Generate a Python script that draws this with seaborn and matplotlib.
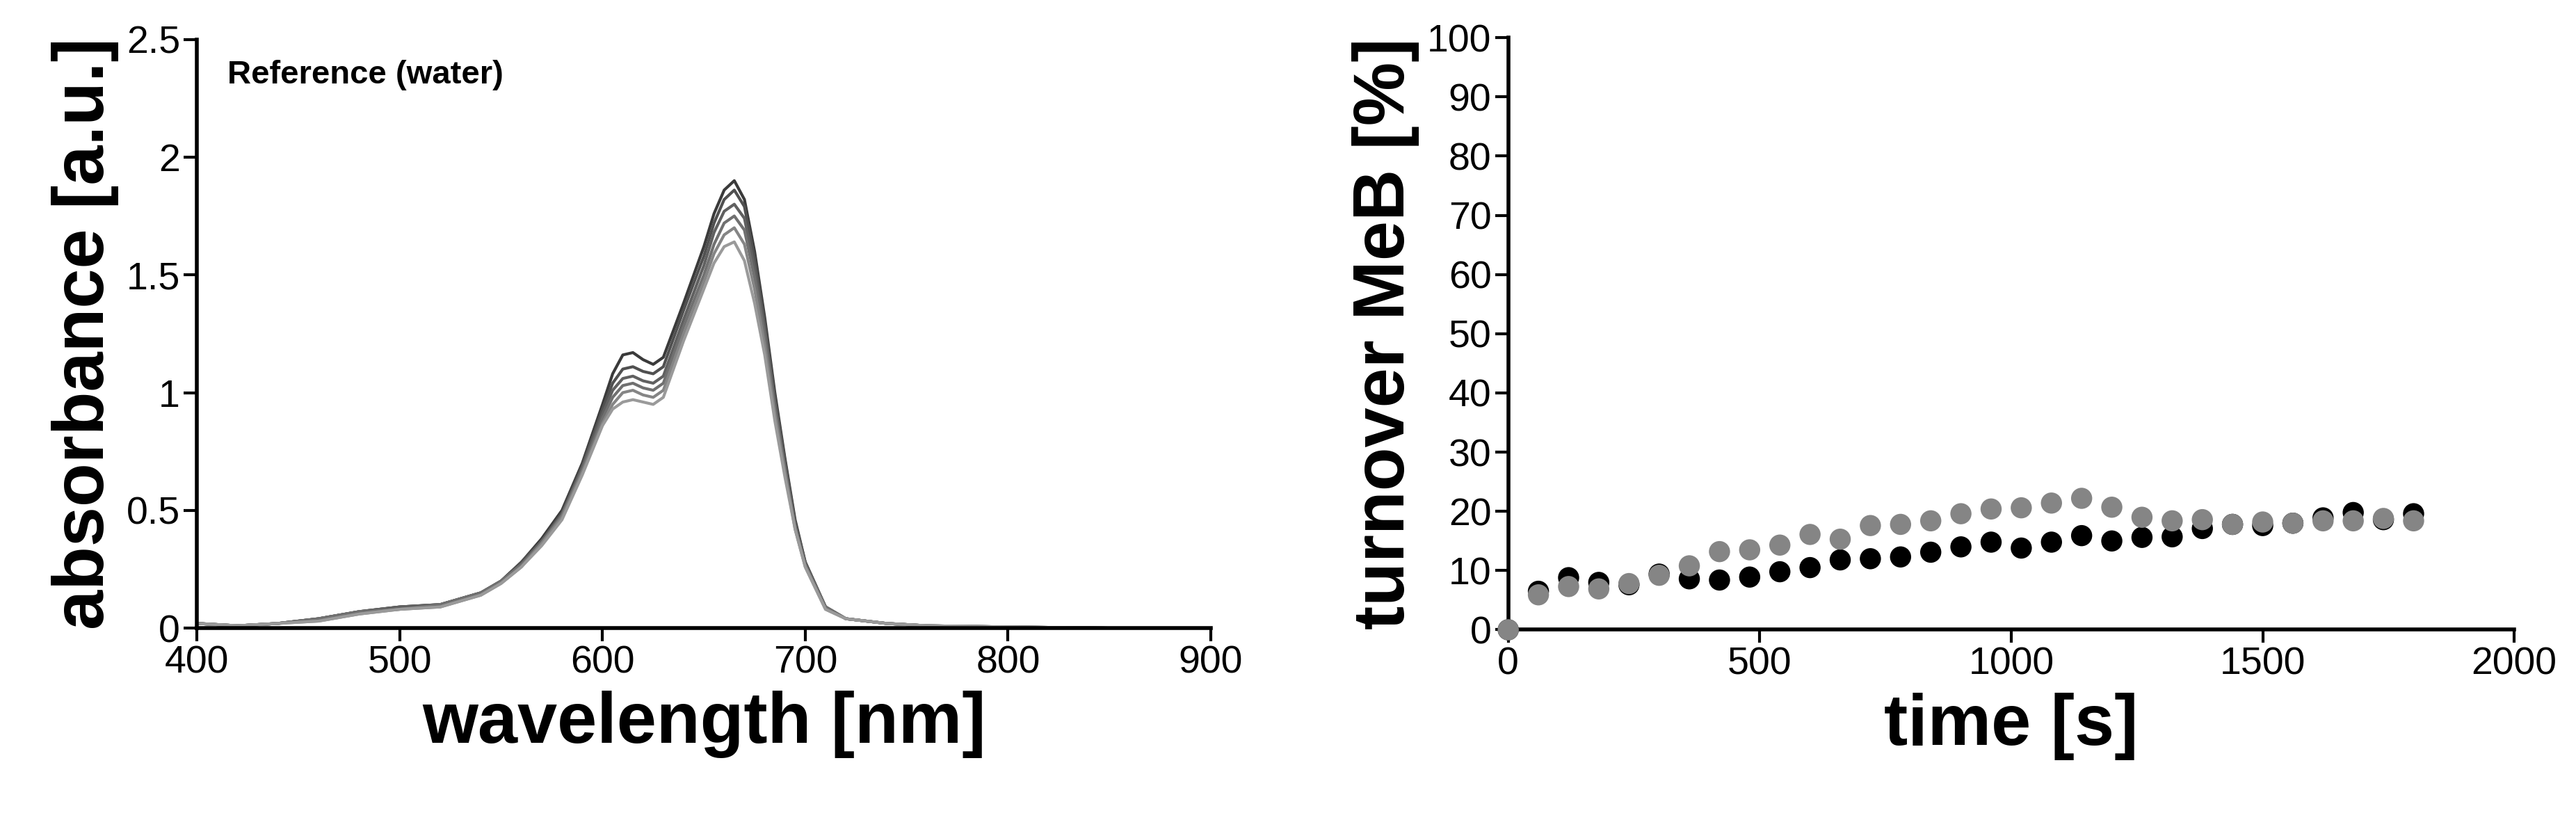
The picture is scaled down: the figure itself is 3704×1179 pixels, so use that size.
import matplotlib
matplotlib.use("Agg")
import matplotlib.pyplot as plt
import seaborn as sns
import pandas as pd

sns.set_style("white")
plt.rcParams['font.family'] = ['Liberation Sans', 'DejaVu Sans']
plt.rcParams['axes.labelcolor'] = 'black'
plt.rcParams['text.color'] = 'black'

wavelength = [400,420,440,460,480,500,520,540,550,560,570,580,590,600,605,610,615,620,625,630,640,650,655,660,665,670,675,680,685,690,695,700,710,720,740,760,800,850]
spectra = {
 "s1": [.02,.01,.02,.04,.07,.09,.10,.15,.20,.28,.38,.50,.70,.95,1.08,1.16,1.17,1.14,1.12,1.15,1.38,1.62,1.76,1.86,1.90,1.82,1.60,1.32,1.00,0.72,0.46,0.28,0.09,0.04,0.02,0.01,0.005,0.0],
 "s2": [.02,.01,.02,.04,.07,.09,.10,.15,.20,.28,.37,.49,.69,.93,1.04,1.10,1.11,1.09,1.08,1.11,1.35,1.58,1.72,1.82,1.86,1.79,1.57,1.30,0.98,0.71,0.45,0.28,0.09,0.04,0.02,0.01,0.005,0.0],
 "s3": [.02,.01,.02,.04,.07,.09,.10,.15,.20,.27,.37,.48,.68,.91,1.01,1.06,1.07,1.05,1.04,1.07,1.31,1.54,1.68,1.77,1.80,1.74,1.53,1.27,0.96,0.69,0.44,0.27,0.09,0.04,0.02,0.01,0.005,0.0],
 "s4": [.02,.01,.02,.04,.07,.08,.10,.15,.20,.27,.36,.48,.67,.89,.98,1.03,1.04,1.02,1.01,1.04,1.28,1.50,1.63,1.72,1.75,1.69,1.49,1.24,0.93,0.67,0.43,0.27,0.09,0.04,0.02,0.01,0.005,0.0],
 "s5": [.02,.01,.02,.03,.06,.08,.09,.14,.19,.26,.36,.47,.66,.87,.95,1.00,1.01,.99,.98,1.01,1.25,1.47,1.59,1.67,1.70,1.63,1.44,1.20,0.91,0.66,0.42,0.26,0.08,0.04,0.02,0.01,0.005,0.0],
 "s6": [.02,.01,.02,.03,.06,.08,.09,.14,.19,.26,.35,.46,.65,.86,.93,.96,.97,.96,.95,.98,1.22,1.44,1.55,1.62,1.64,1.56,1.38,1.16,0.88,0.64,0.42,0.26,0.08,0.04,0.02,0.01,0.005,0.0],
}
spectra_colors = ["#3a3a3a", "#505050", "#606060", "#707070", "#858585", "#9a9a9a"]

time_s = [0,60,120,180,240,300,360,420,480,540,600,660,720,780,840,900,960,1020,1080,1140,1200,1260,1320,1380,1440,1500,1560,1620,1680,1740,1800]
turnover_black = [0,6.5,8.8,8.0,7.6,9.4,8.6,8.4,8.9,9.8,10.5,11.8,12.0,12.3,13.1,14.0,14.8,13.8,14.8,15.9,15.0,15.6,15.7,17.1,17.8,17.6,18.0,18.9,19.8,18.6,19.6]
turnover_gray = [0,5.9,7.3,6.9,7.8,9.2,10.8,13.2,13.5,14.3,16.1,15.3,17.6,17.8,18.4,19.6,20.4,20.6,21.4,22.2,20.7,19.0,18.4,18.6,17.8,18.2,18.0,18.4,18.4,18.8,18.4]

fig = plt.figure(figsize=(37.04, 11.79), dpi=100)
ax1 = fig.add_axes([0.0765, 0.234, 0.3935, 0.718])
ax2 = fig.add_axes([0.5855, 0.232, 0.3905, 0.722])

for (name, vals), c in zip(spectra.items(), spectra_colors):
    sns.lineplot(x=wavelength, y=vals, ax=ax1, color=c, linewidth=3)
ax1.set_xlim(400, 900)
ax1.set_ylim(0, 2.5)
ax1.set_xticks([400,500,600,700,800,900])
ax1.set_yticks([0,0.5,1,1.5,2,2.5])
ax1.set_yticklabels(["0","0.5","1","1.5","2","2.5"])
ax1.set_xlabel("wavelength [nm]", fontsize=74, fontweight="bold")
ax1.set_ylabel("absorbance [a.u.]", fontsize=74, fontweight="bold")
ax1.text(0.03, 0.965, "Reference (water)", transform=ax1.transAxes, fontsize=34, fontweight="bold", va="top")

df = pd.DataFrame({"time": time_s * 2, "turnover": turnover_black + turnover_gray,
                   "series": ["black"] * len(time_s) + ["gray"] * len(time_s)})
sns.scatterplot(data=df, x="time", y="turnover", hue="series", palette={"black": "#000000", "gray": "#858585"},
                s=480, edgecolor="none", ax=ax2, legend=False, zorder=3)
ax2.set_xlim(0, 2000)
ax2.set_ylim(0, 100)
ax2.set_xticks([0,500,1000,1500,2000])
ax2.set_yticks(range(0, 101, 10))
ax2.set_xlabel("time [s]", fontsize=74, fontweight="bold")
ax2.set_ylabel("turnover MeB [%]", fontsize=74, fontweight="bold")

for ax in (ax1, ax2):
    sns.despine(ax=ax)
    for s in ("left", "bottom"):
        ax.spines[s].set_linewidth(4)
        ax.spines[s].set_color("black")
    ax.tick_params(axis="both", labelsize=40, direction="out", length=14, width=3, left=True, bottom=True, colors="black")
    ax.xaxis.labelpad = 10
    ax.yaxis.labelpad = 8
for c in ax2.collections:
    c.set_clip_on(False)

fig.savefig("out.png", dpi=100)
